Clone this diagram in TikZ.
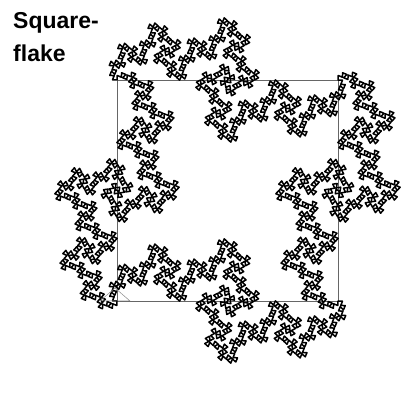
\documentclass[tikz,border=0pt]{standalone}
\usepackage{fontspec}
\setmainfont{Liberation Sans}

% generator point g1 = (a,b), g2 = (1-a,-b)
\def\ga{0.45461}
\def\gb{0.25720}

\newcommand\zackenlinie[5]{%
    \ifnum#1=0
        \pgfpathlineto{\pgfpoint{#4pt}{#5pt}}%
    \else
        \begingroup
        \pgfmathsetmacro\ux{\ga*(#4-#2)-\gb*(#5-#3)}%
        \pgfmathsetmacro\uy{\ga*(#5-#3)+\gb*(#4-#2)}%
        \pgfmathsetmacro\xa{#2+\ux}%
        \pgfmathsetmacro\ya{#3+\uy}%
        \pgfmathsetmacro\xb{#4-\ux}%
        \pgfmathsetmacro\yb{#5-\uy}%
        \edef\tief{\the\numexpr#1-1\relax}%
        \edef\weiter{%
            \noexpand\zackenlinie{\tief}{#2}{#3}{\xa}{\ya}%
            \noexpand\zackenlinie{\tief}{\xa}{\ya}{\xb}{\yb}%
            \noexpand\zackenlinie{\tief}{\xb}{\yb}{#4}{#5}}%
        \weiter
        \endgroup
    \fi}

\tikzset{
    quadrat/.style={draw=black!60, line width=0.8pt},
    kurve/.style={line width=1.5pt, line join=round, line cap=round},
    igel/.style={draw=black!45, line width=0.5pt},
    titel/.style={font=\bfseries\fontsize{23}{33}\selectfont, align=left, inner sep=0pt}
}

\begin{document}
\begin{tikzpicture}[x=1pt, y=1pt]
    \useasboundingbox (0,0) rectangle (417,393);
    \node[titel, anchor=base west] (titel) at (13,331) {Square-\\flake};
    \draw[quadrat] (117,313) rectangle (338,92);
    \begin{scope}[kurve]
        \pgfpathmoveto{\pgfpoint{117pt}{313pt}}
        \zackenlinie{6}{117}{313}{338}{313}
        \zackenlinie{6}{338}{313}{338}{92}
        \zackenlinie{6}{338}{92}{117}{92}
        \zackenlinie{6}{117}{92}{117}{313}
        \pgfpathclose
        \pgfusepath{stroke}
    \end{scope}
    \draw[igel] (100,92) -- (115,105) -- (130,92) -- cycle;
\end{tikzpicture}
\end{document}
